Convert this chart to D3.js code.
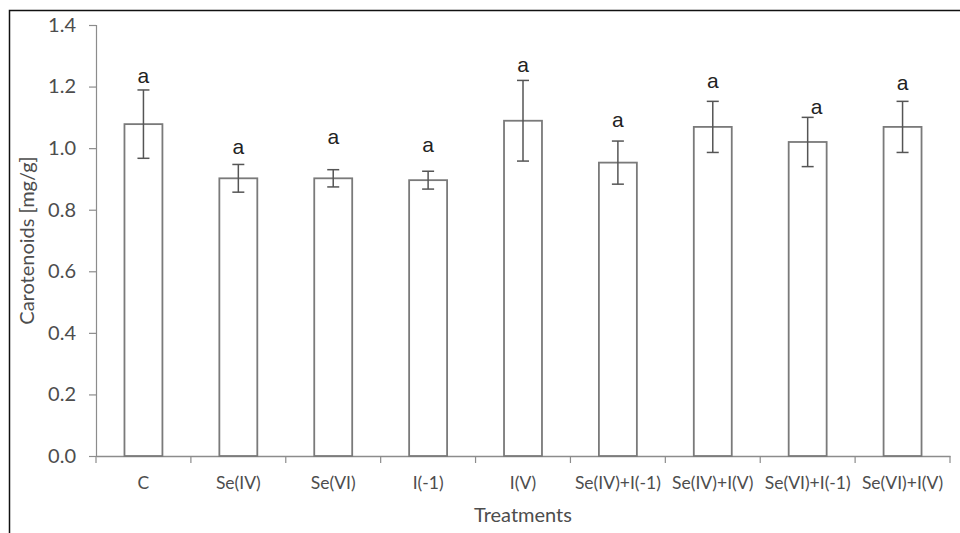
<!DOCTYPE html>
<html>
<head>
<meta charset="utf-8">
<script src="https://cdn.jsdelivr.net/npm/d3@7"></script>
<style>
  body { margin: 0; background: #fff; }
  svg { display: block; }
</style>
</head>
<body>
<div id="chart"></div>
<script>
// Data
const treatments = ['C', 'Se(IV)', 'Se(VI)', 'I(-1)', 'I(V)', 'Se(IV)+I(-1)', 'Se(IV)+I(V)', 'Se(VI)+I(-1)', 'Se(VI)+I(V)'];
const means = [1.078, 0.902, 0.902, 0.896, 1.089, 0.953, 1.069, 1.020, 1.069];
const errors = [0.111, 0.045, 0.028, 0.029, 0.131, 0.070, 0.083, 0.080, 0.083];
const letters = ['a', 'a', 'a', 'a', 'a', 'a', 'a', 'a', 'a'];
const letterAt = [1.237, 1.004, 1.036, 1.011, 1.270, 1.091, 1.219, 1.135, 1.213];
const yTicks = [0, 0.2, 0.4, 0.6, 0.8, 1.0, 1.2, 1.4];

const W = 960, H = 533;
const margin = {top: 25, right: 10, bottom: 77, left: 96};

const svg = d3.select('#chart').append('svg')
  .attr('width', W)
  .attr('height', H);

// outer frame (cropped on right / bottom)
svg.append('rect')
  .attr('x', 9.5).attr('y', 10.5)
  .attr('width', W).attr('height', H)
  .attr('fill', 'none')
  .attr('stroke', '#111')
  .attr('stroke-width', 1.5);

const g = svg.append('g')
  .attr('transform', `translate(${margin.left},${margin.top})`);

const width = 854;
const height = 431;

const x = d3.scaleBand()
  .domain(treatments)
  .range([0, width])
  .padding(0);

const y = d3.scaleLinear()
  .domain([0, 1.4])
  .range([height, 0]);

const barW = x.bandwidth() * 0.4;
const axisColor = '#8c8c8c';
const labelColor = '#4d4d4d';
const font = 'Lato, "Open Sans", sans-serif';

// Y axis
const yAxis = g.append('g')
  .call(d3.axisLeft(y).tickValues(yTicks).tickFormat(d3.format('.1f')).tickSize(7).tickSizeOuter(7));
yAxis.select('.domain').attr('stroke', axisColor).attr('stroke-width', 1.2);
yAxis.selectAll('.tick line').attr('stroke', axisColor).attr('stroke-width', 1.2);
yAxis.selectAll('.tick text')
  .attr('x', -20)
  .style('font-family', font)
  .style('font-size', '20px')
  .style('fill', labelColor);

// X axis
const xAxis = g.append('g')
  .attr('transform', `translate(0,${height})`)
  .call(d3.axisBottom(x).tickSize(0).tickSizeOuter(0));
xAxis.select('.domain').attr('stroke', axisColor).attr('stroke-width', 1.5);
xAxis.selectAll('.tick text')
  .attr('dy', 0)
  .attr('y', 33)
  .style('font-family', font)
  .style('font-size', '17.5px')
  .style('fill', labelColor);

// category boundary ticks
g.append('g')
  .selectAll('line')
  .data(d3.range(treatments.length + 1))
  .join('line')
    .attr('x1', i => i * x.step())
    .attr('x2', i => i * x.step())
    .attr('y1', height)
    .attr('y2', height + 7)
    .attr('stroke', axisColor)
    .attr('stroke-width', 1.2);

// bars
g.selectAll('.bar')
  .data(treatments)
  .join('rect')
    .attr('class', 'bar')
    .attr('x', d => x(d) + (x.bandwidth() - barW) / 2)
    .attr('y', (d, i) => y(means[i]))
    .attr('width', barW)
    .attr('height', (d, i) => y(0) - y(means[i]))
    .attr('fill', '#fff')
    .attr('stroke', '#7a7a7a')
    .attr('stroke-width', 1.8);

// error bars
const err = g.selectAll('.err')
  .data(treatments)
  .join('g')
    .attr('class', 'err')
    .attr('transform', d => `translate(${x(d) + x.bandwidth() / 2},0)`);

err.append('line')
  .attr('y1', (d, i) => y(means[i] + errors[i]))
  .attr('y2', (d, i) => y(means[i] - errors[i]))
  .attr('stroke', '#555')
  .attr('stroke-width', 1.5);

err.selectAll('.cap')
  .data((d, i) => [means[i] + errors[i], means[i] - errors[i]])
  .join('line')
    .attr('class', 'cap')
    .attr('x1', -6).attr('x2', 6)
    .attr('y1', v => y(v))
    .attr('y2', v => y(v))
    .attr('stroke', '#555')
    .attr('stroke-width', 1.5);

// significance letters
g.selectAll('.letter')
  .data(treatments)
  .join('text')
    .attr('class', 'letter')
    .attr('x', (d, i) => x(d) + x.bandwidth() / 2 + (i === 7 ? 9 : 0))
    .attr('y', (d, i) => y(letterAt[i]))
    .attr('dy', '0.35em')
    .attr('text-anchor', 'middle')
    .style('font-family', 'Arial, "Liberation Sans", sans-serif')
    .style('font-size', '21px')
    .style('fill', '#222')
    .text((d, i) => letters[i]);

// axis titles
g.append('text')
  .attr('transform', 'rotate(-90)')
  .attr('x', -height / 2)
  .attr('y', -69)
  .attr('dy', '0.35em')
  .attr('text-anchor', 'middle')
  .style('font-family', font)
  .style('font-size', '20px')
  .style('fill', labelColor)
  .text('Carotenoids [mg/g]');

g.append('text')
  .attr('x', width / 2)
  .attr('y', height + 59)
  .attr('dy', '0.35em')
  .attr('text-anchor', 'middle')
  .style('font-family', font)
  .style('font-size', '20px')
  .style('fill', labelColor)
  .text('Treatments');
</script>
</body>
</html>
